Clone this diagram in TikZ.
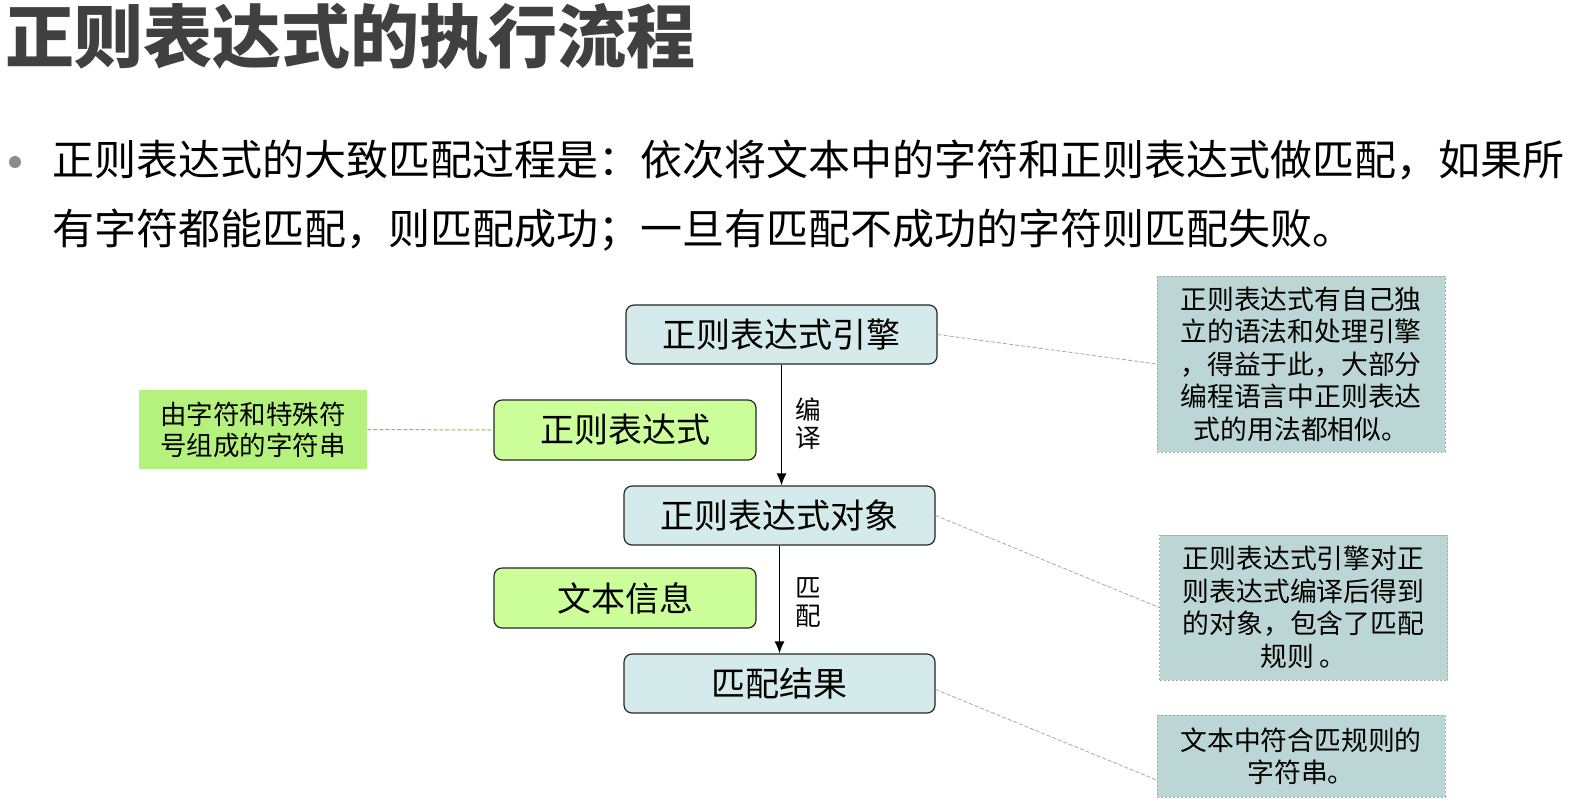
\documentclass[tikz,border=0pt]{standalone}
\usepackage{fontspec}
\setmainfont{Noto Sans CJK SC}
\usetikzlibrary{arrows.meta}
\definecolor{titlegray}{HTML}{404040}
\definecolor{boxblue}{HTML}{D5EAEA}
\definecolor{boxgreen}{HTML}{CCFF99}
\definecolor{labelgreen}{HTML}{B5F27D}
\definecolor{notefill}{HTML}{BCD6D6}
\definecolor{notedash}{HTML}{A8A8A8}
\definecolor{greendash}{HTML}{77CC44}
\definecolor{bulletgray}{HTML}{8C8C8C}
\tikzset{
  flowbox/.style={draw=black!85, line width=0.6pt, rounded corners=4pt, fill=boxblue,
    minimum width=155.5pt, minimum height=29.5pt, inner sep=0pt,
    font=\fontsize{17}{20}\selectfont},
  inbox/.style={draw=black!85, line width=0.6pt, rounded corners=4pt, fill=boxgreen,
    minimum width=131pt, minimum height=30pt, inner sep=0pt,
    font=\fontsize{17}{20}\selectfont},
  notebox/.style={draw=notedash, dash pattern=on 1.2pt off 0.8pt, line width=0.4pt, fill=notefill,
    minimum width=144pt, inner sep=0pt, align=center,
    font=\fontsize{13.4}{16.25}\selectfont},
  lblbox/.style={fill=labelgreen, minimum width=114pt, minimum height=39.5pt, inner sep=0pt,
    align=center, font=\fontsize{13.25}{15.5}\selectfont},
  flowarrow/.style={line width=0.6pt, -{Latex[length=6pt,width=5pt]}},
  arrowlbl/.style={align=center, inner sep=0pt, font=\fontsize{12.8}{14}\selectfont},
  linkline/.style={draw=notedash, dash pattern=on 2pt off 1pt, line width=0.4pt},
  greenlink/.style={draw=greendash, dash pattern=on 2pt off 1pt, line width=0.5pt},
  bodytext/.style={anchor=west, inner sep=0pt, font=\fontsize{21}{25}\selectfont}
}
\begin{document}
\begin{tikzpicture}[x=0.5pt,y=-0.5pt]
\path[use as bounding box] (0,0) rectangle (1582,804);
% title
\node[anchor=west, inner sep=0pt, text=titlegray, font=\fontsize{34.5}{40}\selectfont\bfseries] (title) at (5,36) {正则表达式的执行流程};
% bullet text
\fill[bulletgray] (15,162) circle (6);
\node[bodytext] (line1) at (52,160) {正则表达式的大致匹配过程是：依次将文本中的字符和正则表达式做匹配，如果所};
\node[bodytext] (line2) at (52,230) {有字符都能匹配，则匹配成功；一旦有匹配不成功的字符则匹配失败。};
% flow boxes
\node[flowbox] (eng) at (781.5,334.5) {正则表达式引擎};
\node[flowbox] (obj) at (779.5,515.5) {正则表达式对象};
\node[flowbox] (res) at (779.5,683.5) {匹配结果};
\node[inbox] (re) at (625,430) {正则表达式};
\node[inbox] (txt) at (625,598) {文本信息};
\node[lblbox] (lbl) at (253,429.5) {由字符和特殊符\\号组成的字符串};
% notes
\node[notebox, minimum height=88pt] (n1) at (1301,364) {正则表达式有自己独\\立的语法和处理引擎\\，得益于此，大部分\\编程语言中正则表达\\式的用法都相似。};
\node[notebox, minimum height=72.5pt] (n2) at (1303.5,607.5) {正则表达式引擎对正\\则表达式编译后得到\\的对象，包含了匹配\\规则 。};
\node[notebox, minimum height=41pt] (n3) at (1301,756) {文本中符合匹规则的\\字符串。};
% arrows
\draw[flowarrow] (eng.south) -- (eng.south |- obj.north);
\draw[flowarrow] (obj.south) -- (obj.south |- res.north);
\node[arrowlbl] (l1) at (808,424) {编\\译};
\node[arrowlbl] (l2) at (808,603) {匹\\配};
% links
\draw[greenlink] (lbl.east) -- (re.west);
\draw[linkline] (eng.east) -- (n1.west);
\draw[linkline] (obj.east) -- (n2.west);
\draw[linkline] ([yshift=-3pt]res.east) -- ([yshift=-12pt]n3.west);
\end{tikzpicture}
\end{document}
